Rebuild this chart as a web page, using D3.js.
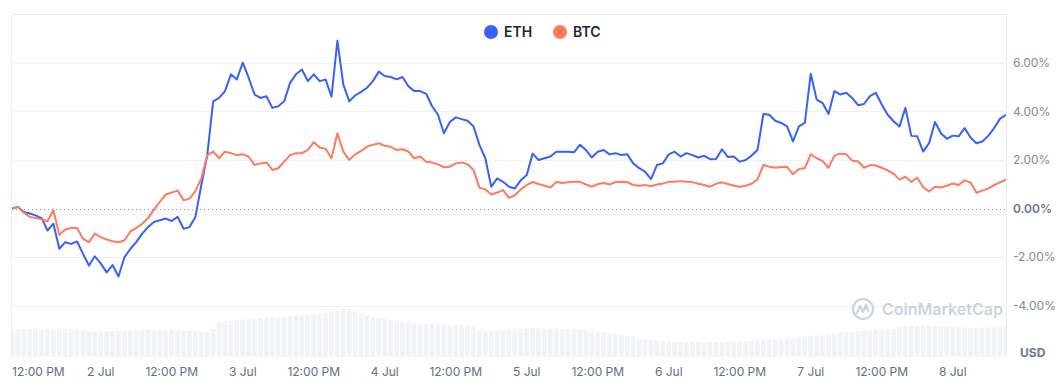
<!DOCTYPE html>
<html>
<head>
<meta charset="utf-8">
<script src="https://cdn.jsdelivr.net/npm/d3@7/dist/d3.min.js"></script>
<style>
	body { margin: 0; background: #fff; }
	svg { display: block; font-family: Inter, "Noto Sans", sans-serif; }
</style>
</head>
<body>
<div id="chart"></div>
<script>
var chart_width = 1063;
var chart_height = 388;

// hourly samples, 1 Jul 09:00 -> 8 Jul 09:00 (UTC)
var startTime = Date.UTC(2023, 6, 1, 9);
var endTime = Date.UTC(2023, 6, 8, 9);

// % change since start
var ethValues = [
	0.0, 0.07, -0.14, -0.2, -0.28, -0.39, -0.9, -0.62, -1.65, -1.38,
	-1.45, -1.35, -1.86, -2.34, -1.96, -2.25, -2.62, -2.32, -2.79, -2.0,
	-1.66, -1.38, -1.03, -0.76, -0.55, -0.48, -0.41, -0.51, -0.34, -0.83,
	-0.76, -0.34, 0.97, 2.2, 4.41, 4.55, 4.83, 5.52, 5.31, 6.0,
	5.38, 4.69, 4.55, 4.62, 4.14, 4.21, 4.41, 5.17, 5.52, 5.72,
	5.24, 5.52, 5.24, 5.31, 4.6, 6.9, 5.1,
	4.41, 4.65, 4.8, 4.97, 5.24, 5.63, 5.45, 5.41, 5.31,
	5.41, 5.03, 4.83, 4.83, 4.72, 4.21, 3.86, 3.1, 3.56, 3.75,
	3.68, 3.61, 3.38, 2.62, 2.07, 0.9, 1.24, 1.1, 0.9, 0.83,
	1.17, 1.38, 2.26, 2.0, 2.07, 2.14, 2.34, 2.34, 2.34, 2.32,
	2.62, 2.41, 2.1, 2.34, 2.41, 2.23, 2.28, 2.2, 2.23, 1.86,
	1.66, 1.52, 1.21, 1.79, 1.86, 2.23, 2.34,
	2.14, 2.28, 2.2, 2.1, 2.17, 2.03, 2.04, 2.44, 2.12, 2.14,
	1.93, 2.0, 2.18, 2.41, 3.89, 3.86, 3.61, 3.52, 3.38, 2.76,
	3.38, 3.52, 5.54, 4.48, 4.34, 3.89, 4.83, 4.69, 4.76, 4.55,
	4.25, 4.3, 4.62, 4.76, 4.28, 3.86, 3.59, 3.38, 4.14, 2.99,
	2.97, 2.34, 2.69, 3.56, 3.1, 2.87, 3.0, 2.97, 3.31, 2.92,
	2.69, 2.76, 2.99, 3.31, 3.7, 3.86
];

var btcValues = [
	0.0, 0.07, -0.17, -0.34, -0.39, -0.44, -0.52, -0.07, -1.08, -0.86,
	-0.8, -0.8, -1.24, -1.38, -1.03, -1.17, -1.27, -1.34, -1.38, -1.31,
	-0.94, -0.8, -0.62, -0.39, -0.03, 0.28, 0.58, 0.66, 0.74, 0.34,
	0.41, 0.72, 1.24, 2.2, 2.34, 2.07, 2.34, 2.28, 2.2, 2.23,
	2.14, 1.79, 1.86, 1.9, 1.59, 1.66, 1.93, 2.2, 2.28, 2.28,
	2.41, 2.73, 2.51, 2.46, 2.07, 3.1, 2.34,
	2.0, 2.23, 2.37, 2.55, 2.62, 2.69, 2.58, 2.54, 2.41,
	2.44, 2.34, 2.07, 2.14, 1.93, 1.9, 1.82, 1.7, 1.72, 1.86,
	1.9, 1.82, 1.59, 0.86, 0.8, 0.58, 0.66, 0.76, 0.44, 0.55,
	0.79, 0.97, 1.1, 1.01, 0.94, 0.87, 1.09, 1.05, 1.08, 1.1,
	1.1, 0.99, 0.9, 1.01, 1.05, 0.99, 1.09, 1.1, 1.09, 0.97,
	0.94, 0.97, 0.92, 0.99, 1.03, 1.1, 1.1,
	1.13, 1.1, 1.09, 1.02, 0.97, 0.9, 1.02, 1.08, 1.01, 0.94,
	0.9, 0.94, 1.02, 1.21, 1.79, 1.72, 1.68, 1.71, 1.72, 1.41,
	1.63, 1.66, 2.23, 2.07, 1.96, 1.68, 2.18, 2.26, 2.23, 1.97,
	1.95, 1.68, 1.79, 1.77, 1.68, 1.57, 1.43, 1.19, 1.31, 1.1,
	1.27, 0.88, 0.7, 0.9, 0.87, 0.94, 1.03, 0.97, 1.16, 1.08,
	0.65, 0.74, 0.83, 0.97, 1.08, 1.19
];

// traded volume (bn USD, rough)
var volumeValues = [
	28, 28.3, 27.8, 28.2, 28, 27.6, 28.4, 28, 27.8,
	28, 27.5, 27, 26.5, 26,
	26, 26.3, 25.8, 26.2, 26, 25.8, 26.5,
	27, 27.2, 27, 27.3, 27, 26.8, 27, 26.6,
	26.5, 26.3, 26, 25.5, 25,
	28, 34.5, 35.5, 36, 37, 37.5, 38, 38.3, 38.8, 39.5, 39.8, 40, 40.3, 41, 41.5, 42, 42.2, 42.8, 43.3, 44, 45.3, 46.5, 47.8,
	47.5, 45.5, 43.5, 41.5, 40, 39, 38.5, 37.3, 36.5, 35.5, 34.5, 33.5, 33, 33, 33, 32.8, 32.8, 32.5, 32.3, 32, 31.5, 30.5,
	27, 26.3, 26.3, 26.5, 27, 27.3, 27.7, 28, 28.5, 28.7, 28.7, 28.5, 28.5, 28.3, 28.3, 28, 27.8, 27.5,
	26.5, 25.5, 24.7, 24.3, 23.8, 23, 22, 21, 20, 18.5, 17.5, 17, 16.5, 16, 15.5, 15.3, 15.3, 15.3, 15.2, 15,
	14.5, 15, 15, 15.3, 15.3, 15.5, 15.5, 16, 16.8, 17.5, 17.7, 17.8, 17.8, 18, 18.5, 19.3, 20, 20.5, 21, 21.5, 22, 22.5, 23, 24, 24.5, 25, 25.8, 26.3, 26.5, 27, 27.5, 27.8, 28,
	29.5, 30.5, 31, 31, 31.3, 31, 31, 30.7, 30.5, 30.3, 30, 29.5, 29, 29, 29.3, 29.5, 29.8, 30, 31
];

var yTicks = [6, 4, 2, 0, -2, -4];
var yTickLabels = ["6.00%", "4.00%", "2.00%", "0.00%", "-2.00%", "-4.00%"];

var xTickTimes = [
	Date.UTC(2023, 6, 1, 12), Date.UTC(2023, 6, 2, 0), Date.UTC(2023, 6, 2, 12), Date.UTC(2023, 6, 3, 0),
	Date.UTC(2023, 6, 3, 12), Date.UTC(2023, 6, 4, 0), Date.UTC(2023, 6, 4, 12), Date.UTC(2023, 6, 5, 0),
	Date.UTC(2023, 6, 5, 12), Date.UTC(2023, 6, 6, 0), Date.UTC(2023, 6, 6, 12), Date.UTC(2023, 6, 7, 0),
	Date.UTC(2023, 6, 7, 12), Date.UTC(2023, 6, 8, 0)
];
var xTickLabels = ["12:00 PM", "2 Jul", "12:00 PM", "3 Jul", "12:00 PM", "4 Jul", "12:00 PM", "5 Jul",
	"12:00 PM", "6 Jul", "12:00 PM", "7 Jul", "12:00 PM", "8 Jul"];

var seriesNames = ["ETH", "BTC"];
var seriesColors = ["#3861fb", "#ff7a5e"];

var plotLeft = 12, plotRight = 1006, plotTop = 14, plotBottom = 357;

var hours = ethValues.map(function(d, i) { return new Date(startTime + i * 3600000); });

var x = d3.scaleUtc()
	.domain([new Date(startTime), new Date(endTime)])
	.range([plotLeft, plotRight]);

var y = d3.scaleLinear()
	.domain([-6.1, 8])
	.range([plotBottom, plotTop]);

var yVol = d3.scaleLinear()
	.domain([0, 50])
	.range([plotBottom, plotBottom - 50]);

var svg = d3.select("#chart")
	.append("svg")
	.attr("width", chart_width)
	.attr("height", chart_height);

svg.append("defs").append("clipPath")
	.attr("id", "plotClip")
	.append("rect")
	.attr("x", plotLeft)
	.attr("y", plotTop)
	.attr("width", plotRight - plotLeft)
	.attr("height", plotBottom - plotTop);

// volume bars
var barStep = x(hours[1]) - x(hours[0]);
svg.append("g")
	.attr("clip-path", "url(#plotClip)")
	.selectAll("rect")
	.data(volumeValues)
	.enter()
	.append("rect")
	.attr("x", function(d, i) { return x(hours[i]) - barStep / 2 + 0.5; })
	.attr("y", function(d) { return yVol(d); })
	.attr("width", barStep - 1.2)
	.attr("height", function(d) { return plotBottom - yVol(d); })
	.attr("fill", "#f1f3f6");

// grid
svg.append("g")
	.selectAll("line")
	.data(yTicks.filter(function(d) { return d != 0; }))
	.enter()
	.append("line")
	.attr("x1", plotLeft)
	.attr("x2", plotRight)
	.attr("y1", function(d) { return Math.round(y(d)) + 0.5; })
	.attr("y2", function(d) { return Math.round(y(d)) + 0.5; })
	.attr("stroke", "#eff1f4")
	.attr("stroke-width", 1);

// frame: top, left, right
svg.append("line")
	.attr("x1", plotLeft).attr("x2", plotRight)
	.attr("y1", plotTop + 0.5).attr("y2", plotTop + 0.5)
	.attr("stroke", "#e6e9ed");
svg.append("line")
	.attr("x1", plotLeft - 0.5).attr("x2", plotLeft - 0.5)
	.attr("y1", plotTop).attr("y2", plotBottom)
	.attr("stroke", "#eceef1");
svg.append("line")
	.attr("x1", plotRight + 0.5).attr("x2", plotRight + 0.5)
	.attr("y1", plotTop).attr("y2", plotBottom)
	.attr("stroke", "#eceef1");

// zero line
svg.append("line")
	.attr("x1", plotLeft)
	.attr("x2", plotRight)
	.attr("y1", Math.round(y(0)) + 0.5)
	.attr("y2", Math.round(y(0)) + 0.5)
	.attr("stroke", "#8d96a6")
	.attr("stroke-width", 1)
	.attr("stroke-dasharray", "1,3");

// watermark
var wm = svg.append("g")
	.attr("transform", "translate(863,309)")
	.attr("opacity", 0.55);
wm.append("circle")
	.attr("r", 10)
	.attr("fill", "none")
	.attr("stroke", "#a6b0c3")
	.attr("stroke-width", 2.2);
wm.append("path")
	.attr("d", "M-6,4 L-3,-3 L0,3 L3,-4 L5,2")
	.attr("fill", "none")
	.attr("stroke", "#a6b0c3")
	.attr("stroke-width", 2.2)
	.attr("stroke-linejoin", "round")
	.attr("stroke-linecap", "round");
wm.append("text")
	.attr("x", 19)
	.attr("y", 0)
	.attr("dy", "0.35em")
	.attr("font-size", "16px")
	.attr("font-weight", 600)
	.attr("fill", "#a6b0c3")
	.text("CoinMarketCap");

// lines
var line = d3.line()
	.x(function(d, i) { return x(hours[i]); })
	.y(function(d) { return y(d); });

var seriesData = [ethValues, btcValues];
svg.append("g")
	.attr("clip-path", "url(#plotClip)")
	.selectAll("path")
	.data(seriesData)
	.enter()
	.append("path")
	.attr("d", line)
	.attr("fill", "none")
	.attr("stroke", function(d, i) { return seriesColors[i]; })
	.attr("stroke-width", 2)
	.attr("stroke-linejoin", "round");

// y labels
svg.append("g")
	.selectAll("text")
	.data(yTicks)
	.enter()
	.append("text")
	.attr("x", 1013)
	.attr("y", function(d) { return y(d); })
	.attr("dy", "0.35em")
	.attr("font-size", "12px")
	.attr("font-weight", function(d) { return d == 0 ? 600 : 400; })
	.attr("fill", function(d) { return d == 0 ? "#6b778c" : "#808a9d"; })
	.text(function(d, i) { return yTickLabels[i]; });

svg.append("text")
	.attr("x", 1020)
	.attr("y", 353)
	.attr("dy", "0.35em")
	.attr("font-size", "12px")
	.attr("font-weight", 700)
	.attr("fill", "#6b778c")
	.text("USD");

// x labels
svg.append("g")
	.selectAll("text")
	.data(xTickTimes)
	.enter()
	.append("text")
	.attr("x", function(d) { return x(new Date(d)); })
	.attr("y", 372)
	.attr("dy", "0.35em")
	.attr("text-anchor", "middle")
	.attr("font-size", "12px")
	.attr("fill", "#616e85")
	.text(function(d, i) { return xTickLabels[i]; })
	.each(function() {
		// keep labels inside the plot's left edge
		var box = this.getBBox();
		if (box.x < plotLeft) {
			d3.select(this).attr("text-anchor", "start").attr("x", plotLeft);
		}
	});

// legend
var legend = svg.append("g")
	.selectAll("g")
	.data(seriesNames)
	.enter()
	.append("g")
	.attr("transform", function(d, i) { return "translate(" + (491 + i * 69) + ",32)"; });

legend.append("circle")
	.attr("r", 7)
	.attr("fill", function(d, i) { return seriesColors[i]; });

legend.append("text")
	.attr("x", 13)
	.attr("dy", "0.35em")
	.attr("font-size", "14px")
	.attr("font-weight", 600)
	.attr("fill", "#222531")
	.text(function(d) { return d; });
</script>
</body>
</html>
